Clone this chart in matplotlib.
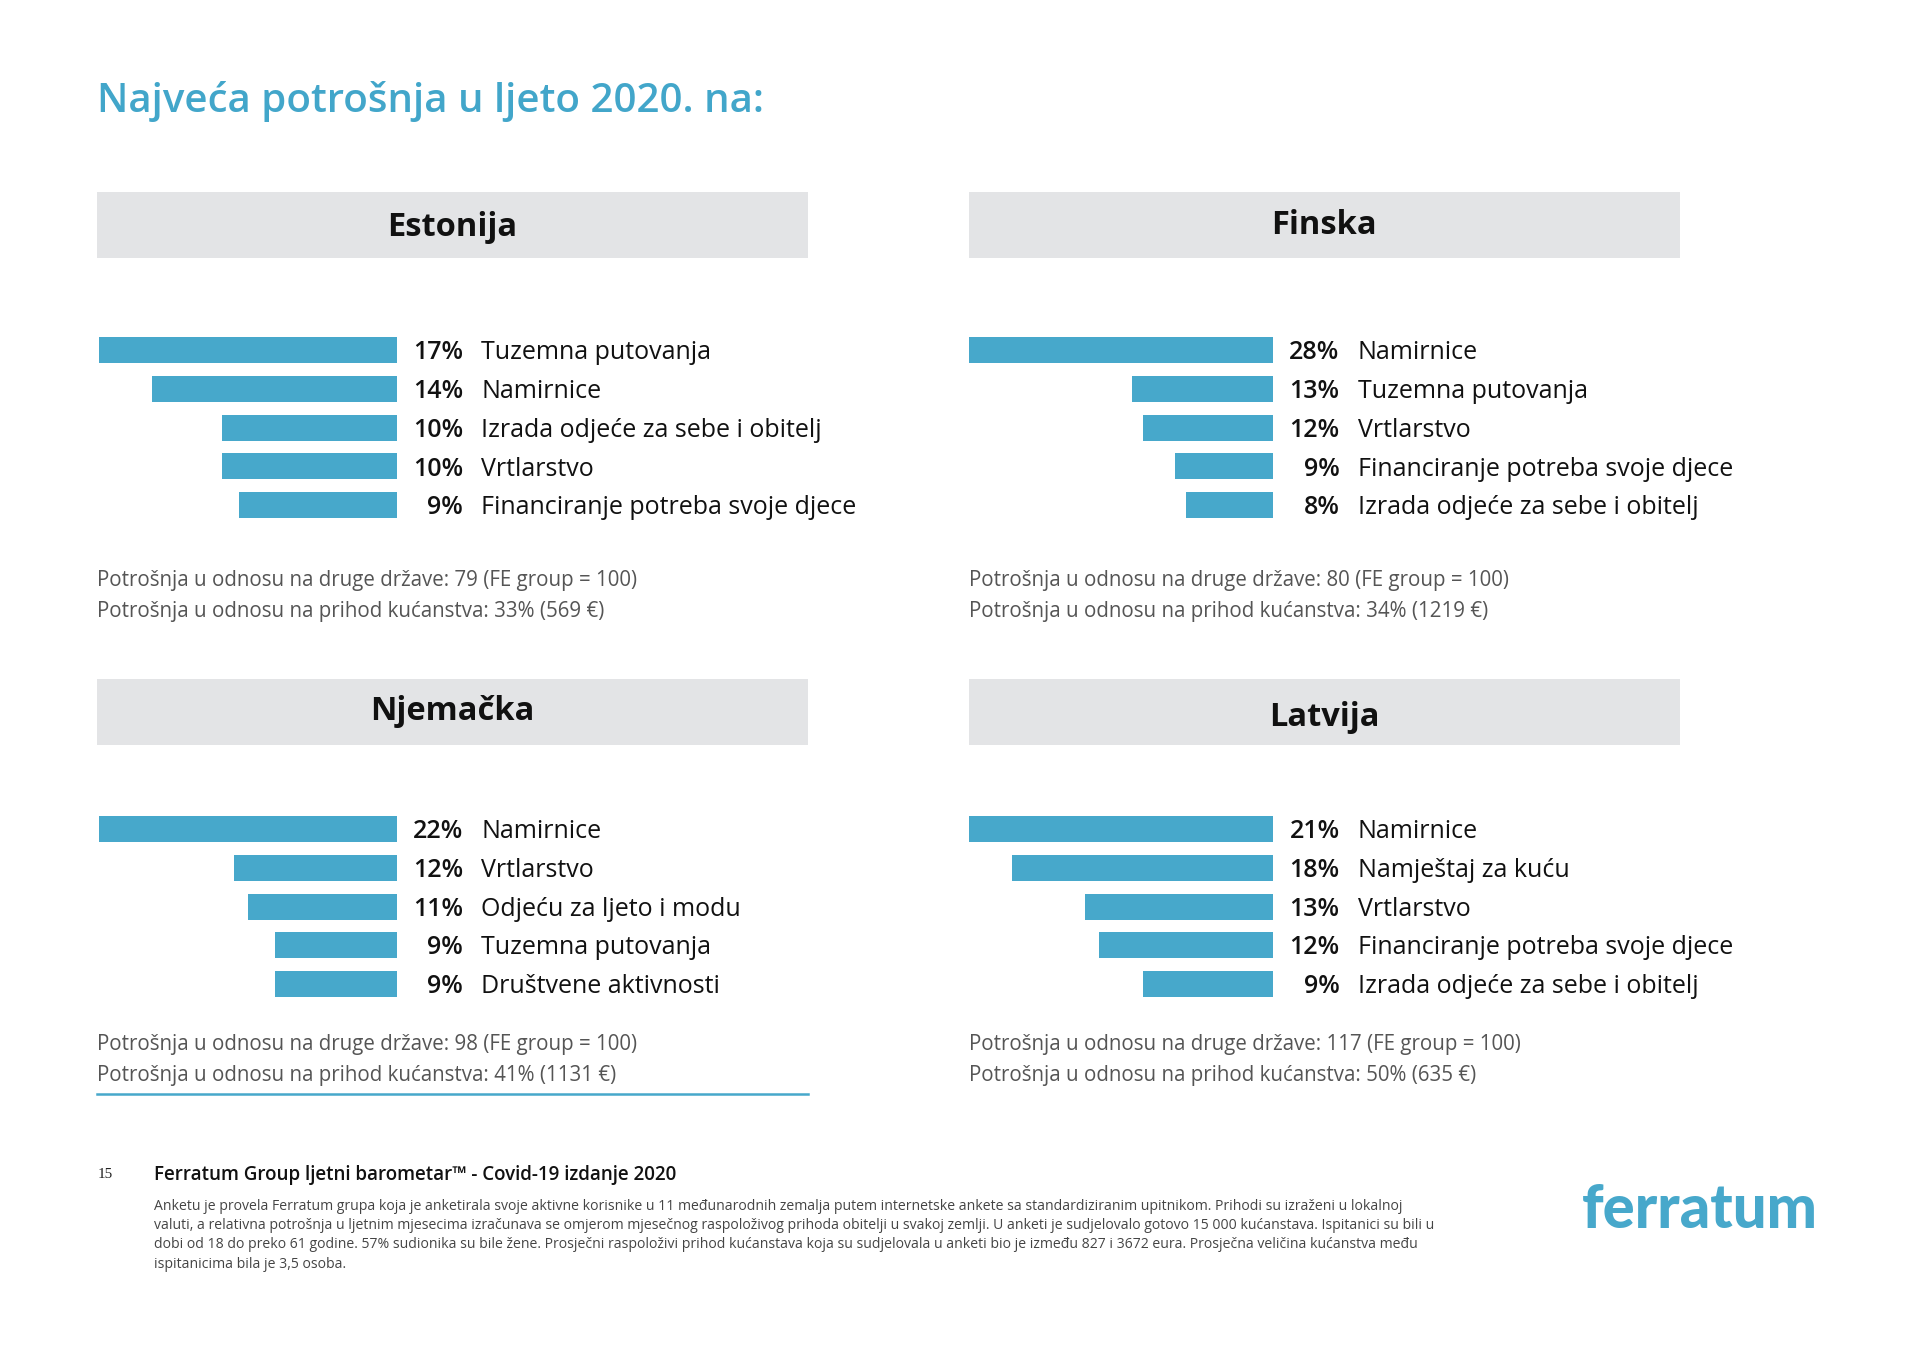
import matplotlib
matplotlib.use('Agg')
import matplotlib.pyplot as plt
from matplotlib.patches import Rectangle
import matplotlib.transforms as mtransforms

plt.rcParams['font.family'] = ['Open Sans', 'DejaVu Sans']

# ---------------- data ----------------
title = 'Najveća potrošnja u ljeto 2020. na:'

estonija_cats = ['Tuzemna putovanja', 'Namirnice', 'Izrada odjeće za sebe i obitelj', 'Vrtlarstvo',
                 'Financiranje potreba svoje djece']
estonija_vals = [17, 14, 10, 10, 9]
estonija_notes = ['Potrošnja u odnosu na druge države: 79 (FE group = 100)',
                  'Potrošnja u odnosu na prihod kućanstva: 33% (569 €)']

finska_cats = ['Namirnice', 'Tuzemna putovanja', 'Vrtlarstvo', 'Financiranje potreba svoje djece',
               'Izrada odjeće za sebe i obitelj']
finska_vals = [28, 13, 12, 9, 8]
finska_notes = ['Potrošnja u odnosu na druge države: 80 (FE group = 100)',
                'Potrošnja u odnosu na prihod kućanstva: 34% (1219 €)']

njemacka_cats = ['Namirnice', 'Vrtlarstvo', 'Odjeću za ljeto i modu', 'Tuzemna putovanja',
                 'Društvene aktivnosti']
njemacka_vals = [22, 12, 11, 9, 9]
njemacka_notes = ['Potrošnja u odnosu na druge države: 98 (FE group = 100)',
                  'Potrošnja u odnosu na prihod kućanstva: 41% (1131 €)']

latvija_cats = ['Namirnice', 'Namještaj za kuću', 'Vrtlarstvo', 'Financiranje potreba svoje djece',
                'Izrada odjeće za sebe i obitelj']
latvija_vals = [21, 18, 13, 12, 9]
latvija_notes = ['Potrošnja u odnosu na druge države: 117 (FE group = 100)',
                 'Potrošnja u odnosu na prihod kućanstva: 50% (635 €)']

footer_title = 'Ferratum Group ljetni barometar™ - Covid-19 izdanje 2020'
footer_lines = [
    'Anketu je provela Ferratum grupa koja je anketirala svoje aktivne korisnike u 11 međunarodnih zemalja putem internetske ankete sa standardiziranim upitnikom. Prihodi su izraženi u lokalnoj',
    'valuti, a relativna potrošnja u ljetnim mjesecima izračunava se omjerom mjesečnog raspoloživog prihoda obitelji u svakoj zemlji. U anketi je sudjelovalo gotovo 15 000 kućanstava. Ispitanici su bili u',
    'dobi od 18 do preko 61 godine. 57% sudionika su bile žene. Prosječni raspoloživi prihod kućanstava koja su sudjelovala u anketi bio je između 827 i 3672 eura. Prosječna veličina kućanstva među',
    'ispitanicima bila je 3,5 osoba.',
]

BLUE = '#47a8cb'
TITLE_BLUE = '#42a6ca'
BOX_GREY = '#e3e4e6'
NOTE_GREY = '#555555'

# layout is worked out on a 1568 x 1108 grid
W, H = 1568.0, 1108.0
def fx(x):
    return x / W
def fy(y):
    return 1 - y / H

fig = plt.figure(figsize=(19.2, 13.57), dpi=100)
fig.patch.set_facecolor('white')

fig.text(fx(79), fy(83), title, color=TITLE_BLUE, fontsize=29, fontweight='semibold',
         ha='left', va='center')

panels = [
    # name, cats, vals, notes, box_left, box_top, header_y, first_row_y, notes_y, bar_left, bar_right
    ('Estonija', estonija_cats, estonija_vals, estonija_notes, 79, 157, 186, 286, 474, 81, 324),
    ('Finska', finska_cats, finska_vals, finska_notes, 791, 157, 184, 286, 474, 791, 1040),
    ('Njemačka', njemacka_cats, njemacka_vals, njemacka_notes, 79, 554, 581, 677, 853, 81, 324),
    ('Latvija', latvija_cats, latvija_vals, latvija_notes, 791, 554, 586, 677, 853, 791, 1040),
]

box_w, box_h = 581, 54
row_gap = 31.6

for name, cats, vals, notes, bx, by, hy, ry, ny, bl, br in panels:
    fig.patches.append(Rectangle((fx(bx), fy(by + box_h)), box_w / W, box_h / H,
                                 transform=fig.transFigure, facecolor=BOX_GREY,
                                 edgecolor='none', zorder=0))
    fig.text(fx(bx + box_w / 2), fy(hy), name, fontsize=23.5, fontweight='bold',
             ha='center', va='center', color='#111111')

    top = ry - row_gap / 2
    ax = fig.add_axes([fx(bl), fy(top + row_gap * len(vals)), (br - bl) / W,
                       row_gap * len(vals) / H])
    ypos = list(range(len(vals)))
    ax.barh(ypos, vals, height=0.67, color=BLUE, left=0)
    ax.set_xlim(max(vals), 0)
    ax.set_ylim(len(vals) - 0.5, -0.5)
    ax.axis('off')

    trans = mtransforms.blended_transform_factory(fig.transFigure, ax.transData)
    for i, (c, v) in enumerate(zip(cats, vals)):
        ax.text(fx(br + 54), i + 0.07, f'{v}%', transform=trans, ha='right', va='center',
                fontsize=18, fontweight='semibold', color='#111111')
        ax.text(fx(br + 69), i + 0.07, c, transform=trans, ha='left', va='center',
                fontsize=18, color='#111111')

    for j, n in enumerate(notes):
        fig.text(fx(bx), fy(ny + 25 * j), n, fontsize=14.8, color=NOTE_GREY,
                 ha='left', va='center')

# blue rule under the Njemačka panel
fig.add_artist(plt.Line2D([fx(79), fx(660)], [fy(893), fy(893)], color=BLUE, lw=1.8))

# footer
fig.text(fx(80), fy(959), '15', fontsize=11, family='Liberation Serif', color='#222222',
         ha='left', va='center')
fig.text(fx(126), fy(959), footer_title, fontsize=13.5, fontweight='semibold',
         color='#111111', ha='left', va='center')
for k, line in enumerate(footer_lines):
    fig.text(fx(126), fy(985 + 15.7 * k), line, fontsize=10.05, color='#444444',
             ha='left', va='center')

fig.text(fx(1292), fy(988), 'ferratum', fontsize=43, fontweight='black', family='Lato',
         color=BLUE, ha='left', va='center')

fig.savefig('out.png', dpi=100)
